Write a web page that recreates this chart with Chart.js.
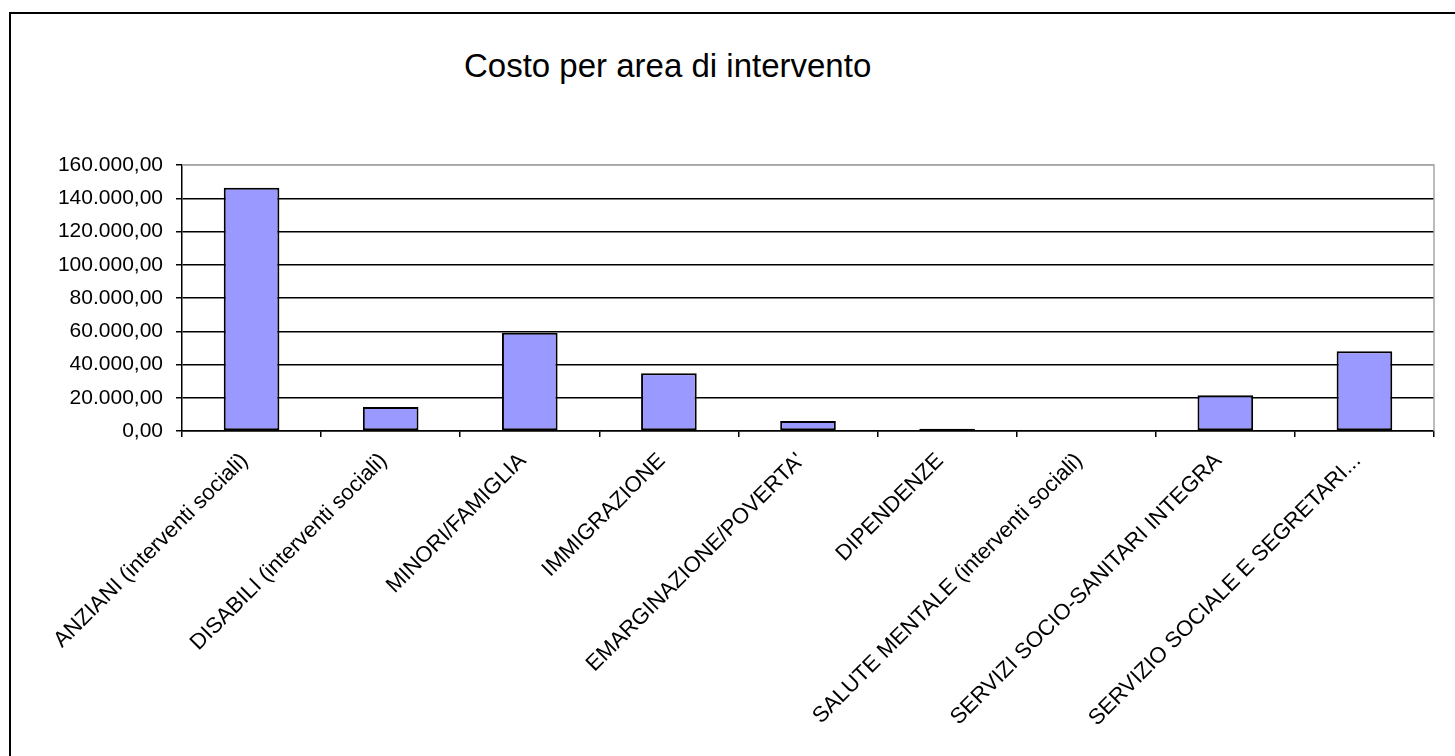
<!DOCTYPE html>
<html>
<head>
<meta charset="utf-8">
<script src="https://cdn.jsdelivr.net/npm/chart.js@4.4.1/dist/chart.umd.min.js"></script>
<style>
  html, body { margin: 0; padding: 0; background: #fff; overflow: hidden; }
  #frame { position: absolute; left: 9px; top: 12px; width: 1600px; height: 900px; border: 2px solid #000; }
  #title { position: absolute; left: 464px; top: 49px; font: 33px/33px "Liberation Sans", Arial, sans-serif; color: #000; white-space: nowrap; }
  #wrap { position: absolute; left: 0; top: 0; width: 1455px; height: 756px; }
</style>
</head>
<body>
<div id="frame"></div>
<div id="title">Costo per area di intervento</div>
<div id="wrap"><canvas id="c" width="1455" height="756"></canvas></div>
<script>
// Aree di intervento (asse delle categorie)
const categories = [
  "ANZIANI (interventi sociali)",
  "DISABILI (interventi sociali)",
  "MINORI/FAMIGLIA",
  "IMMIGRAZIONE",
  "EMARGINAZIONE/POVERTA'",
  "DIPENDENZE",
  "SALUTE MENTALE (interventi sociali)",
  "SERVIZI SOCIO-SANITARI INTEGRA",
  "SERVIZIO SOCIALE E SEGRETARI..."
];

// Costo per area (euro)
const costValues = [146300, 14400, 59100, 34700, 6000, 1300, 0, 21500, 47900];

// Valori delle etichette dell'asse verticale
const yTickValues = [0, 20000, 40000, 60000, 80000, 100000, 120000, 140000, 160000];

const FONT = '"Liberation Sans", Arial, sans-serif';

// 160000 -> "160.000,00"
function formatIt(v) {
  const parts = Number(v).toFixed(2).split('.');
  return parts[0].replace(/\B(?=(\d{3})+(?!\d))/g, '.') + ',' + parts[1];
}

// Bordo grigio in alto e a destra dell'area del grafico
const plotFrame = {
  id: 'plotFrame',
  afterDatasetsDraw(chart) {
    const { ctx, chartArea: a } = chart;
    ctx.save();
    ctx.strokeStyle = '#a6a6a6';
    ctx.lineWidth = 1.5;
    ctx.beginPath();
    ctx.moveTo(a.left, a.top);
    ctx.lineTo(a.right, a.top);
    ctx.lineTo(a.right, a.bottom);
    ctx.stroke();
    ctx.restore();
  }
};

new Chart(document.getElementById('c'), {
  type: 'bar',
  data: {
    labels: categories,
    datasets: [{
      data: costValues,
      backgroundColor: '#9999ff',
      borderColor: '#000',
      borderWidth: 2,
      borderSkipped: false,
      barPercentage: 0.4,
      categoryPercentage: 1.0
    }]
  },
  options: {
    responsive: false,
    devicePixelRatio: 1,
    animation: false,
    layout: { padding: { left: 0, top: 165, right: 21, bottom: 0 } },
    plugins: {
      legend: { display: false },
      title: { display: false },
      tooltip: { enabled: false }
    },
    scales: {
      x: {
        grid: { offset: true, drawOnChartArea: false, drawTicks: true, tickLength: 6, color: '#000', lineWidth: 1.5 },
        border: { color: '#000', width: 1.5 },
        ticks: {
          minRotation: 45, maxRotation: 45, autoSkip: false, padding: 11, labelOffset: -7,
          color: '#000', font: { family: FONT, size: 22 }
        },
        afterFit(scale) { scale.height = 756 - 431; }
      },
      y: {
        min: 0, max: 160000,
        afterBuildTicks(scale) { scale.ticks = yTickValues.map(v => ({ value: v })); },
        grid: {
          color: ctx => (ctx.tick && ctx.tick.value === 160000) ? '#a6a6a6' : '#000',
          tickColor: '#000', tickLength: 6, lineWidth: 1.5
        },
        border: { color: '#000', width: 1.5 },
        ticks: {
          padding: 13, color: '#000', font: { family: FONT, size: 21 },
          callback: v => formatIt(v)
        },
        afterFit(scale) { scale.width = 182; }
      }
    }
  },
  plugins: [plotFrame]
});
</script>
</body>
</html>
